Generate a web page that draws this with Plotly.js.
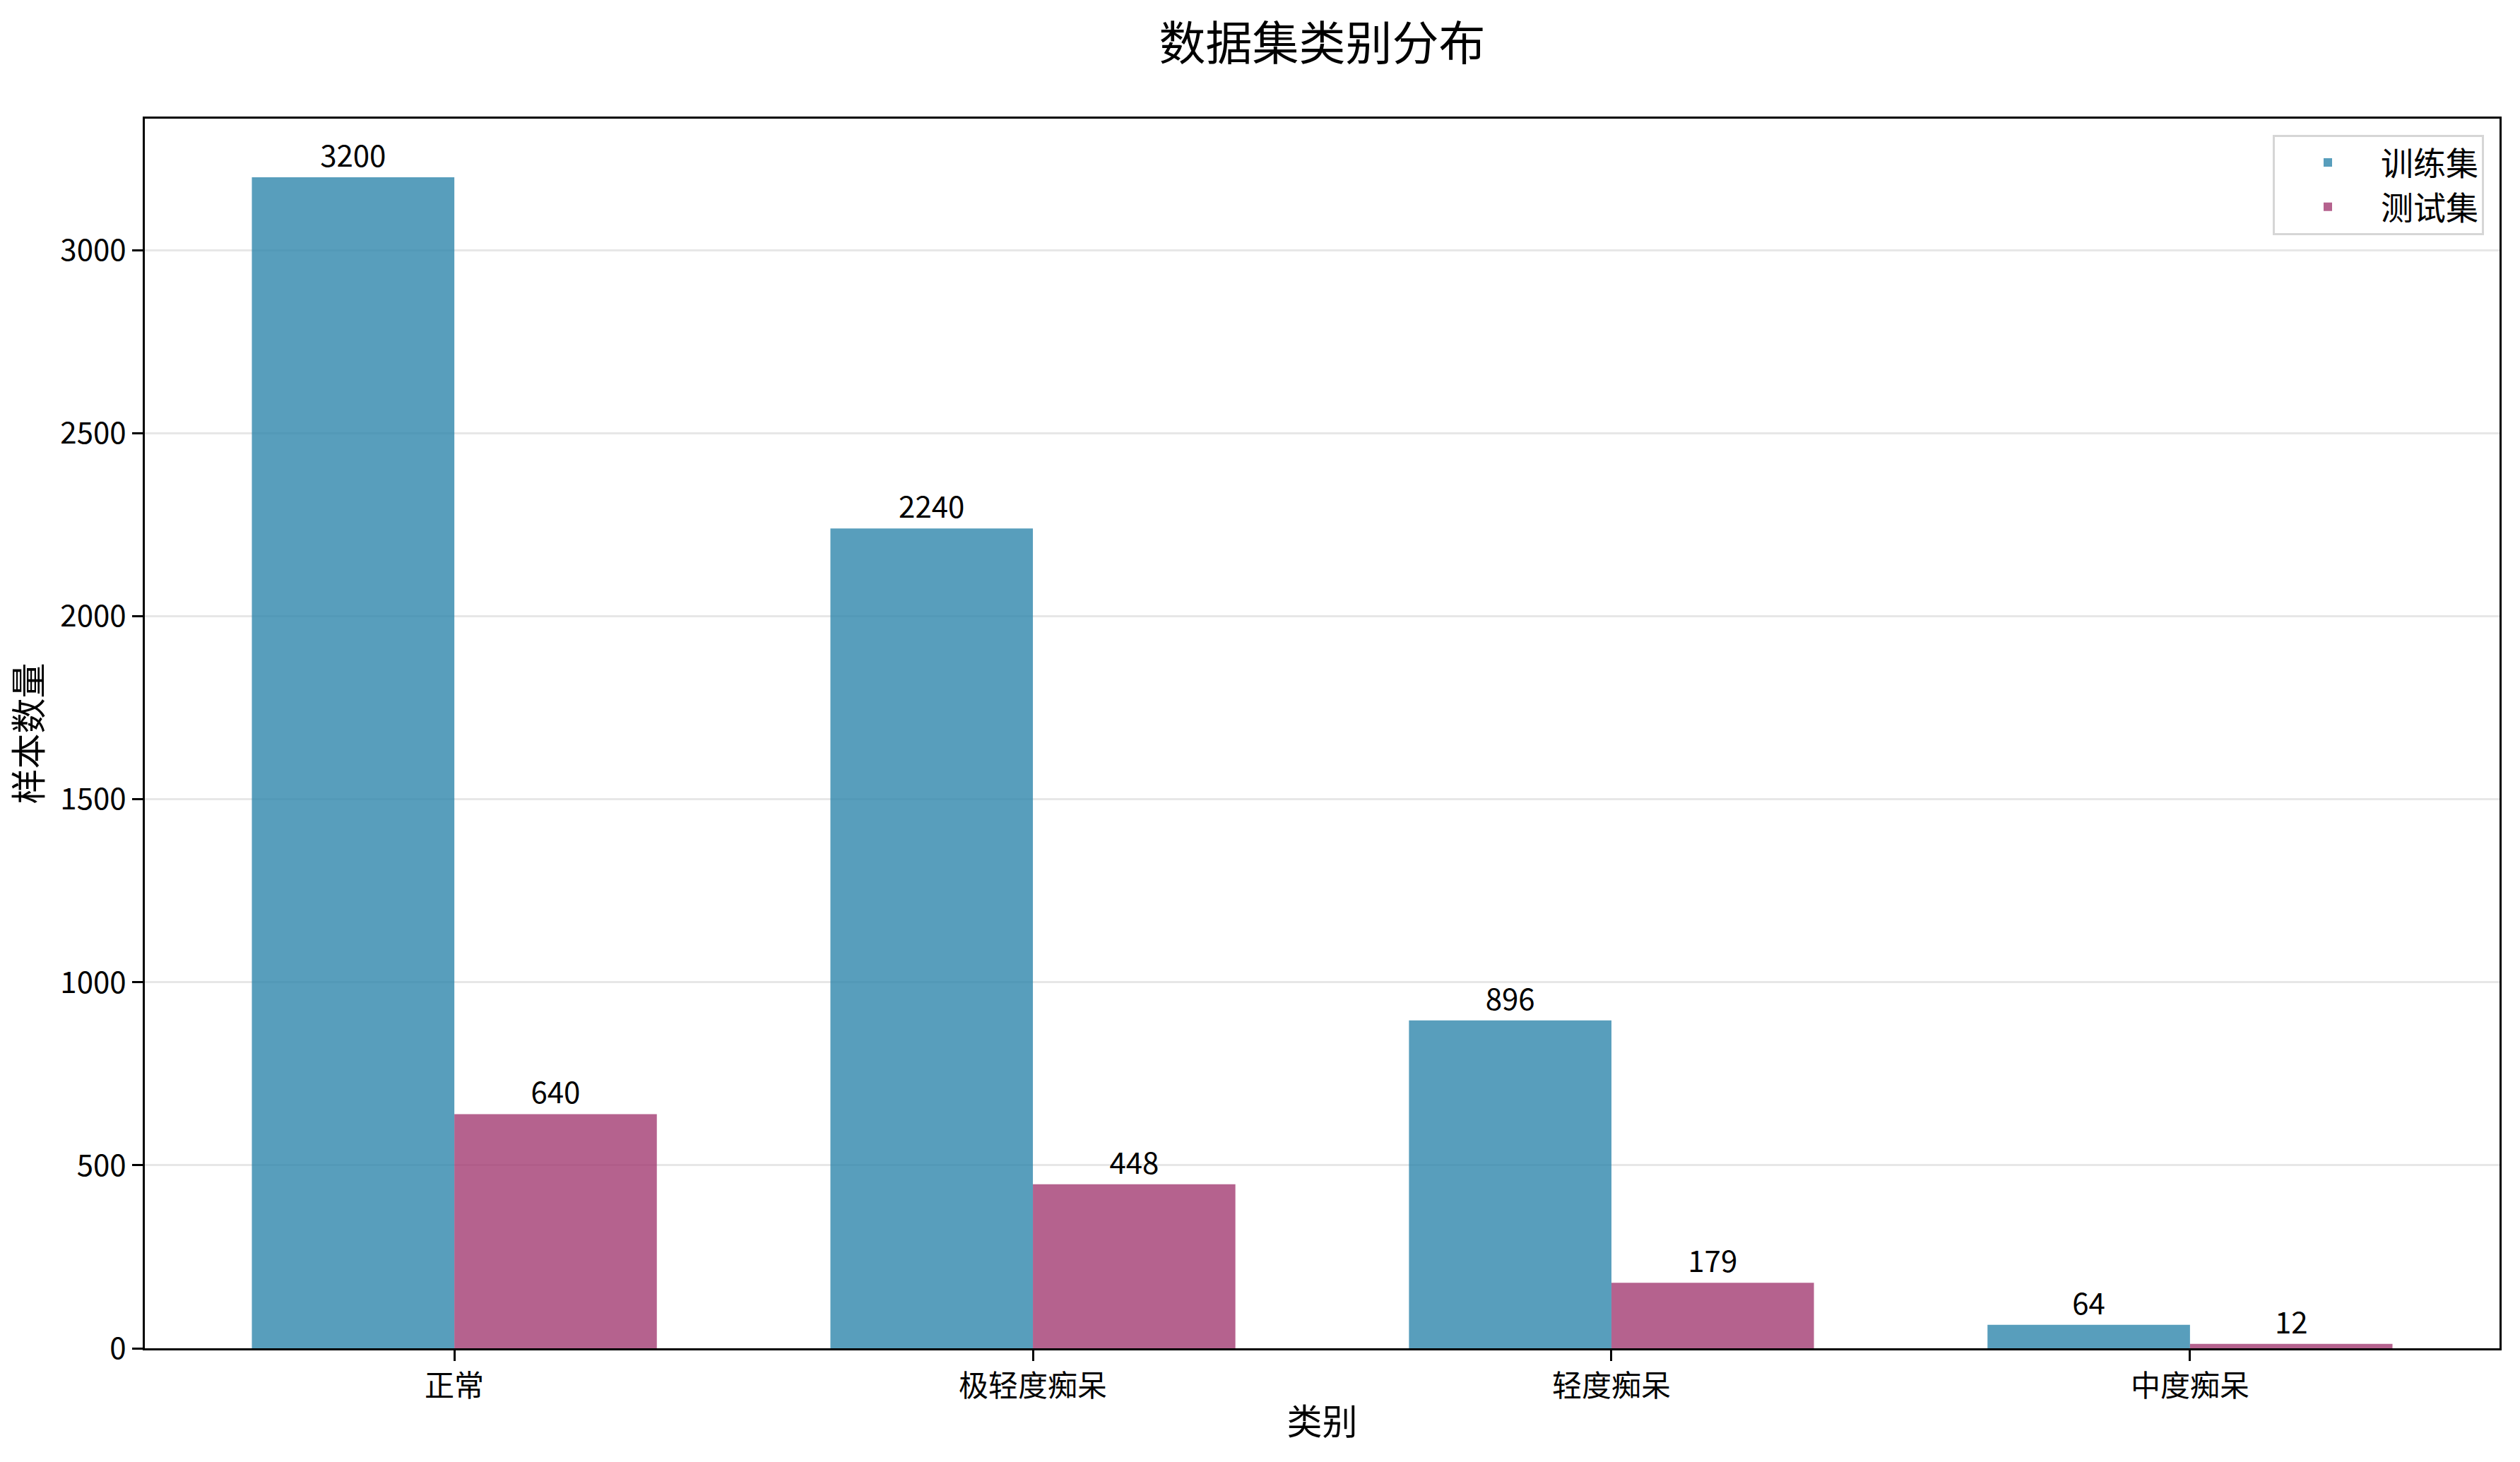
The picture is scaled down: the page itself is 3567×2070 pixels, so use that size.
<!DOCTYPE html>
<html>
<head>
<meta charset="utf-8">
<script src="https://cdn.plot.ly/plotly-3.0.1.min.js"></script>
<style>
  html, body { margin: 0; padding: 0; background: #fff; }
  #chart { width: 3567px; height: 2070px; }
</style>
</head>
<body>
<div id="chart"></div>
<script>
// categories and counts
const categories = ['正常', '极轻度痴呆', '轻度痴呆', '中度痴呆'];
const trainCounts = [3200, 2240, 896, 64];
const testCounts = [640, 448, 179, 12];
const seriesNames = ['训练集', '测试集'];
const yTicks = [0, 500, 1000, 1500, 2000, 2500, 3000];

const FONT = '"Noto Sans CJK SC", "Noto Sans", sans-serif';

function barTrace(name, values, color) {
  return {
    x: categories,
    y: values,
    name: name,
    type: 'bar',
    marker: { color: color, line: { width: 0 } },
    text: values.map(String),
    texttemplate: '%{text}',
    textposition: 'outside',
    constraintext: 'none',
    cliponaxis: false,
    textfont: { family: FONT, size: 42, color: '#000' },
    hoverinfo: 'skip'
  };
}

let data = [
  barTrace(seriesNames[0], trainCounts, 'rgba(46,134,171,0.8)'),
  barTrace(seriesNames[1], testCounts, 'rgba(162,59,114,0.8)')
];

let layout = {
  width: 3567,
  height: 2070,
  margin: { l: 205, r: 29, t: 168, b: 161 },
  paper_bgcolor: '#fff',
  plot_bgcolor: '#fff',
  font: { family: FONT, color: '#000' },
  barmode: 'group',
  bargap: 0.3,
  bargroupgap: 0,
  title: {
    text: '数据集类别分布',
    font: { family: FONT, size: 66, color: '#000' },
    xref: 'paper',
    x: 0.5,
    xanchor: 'center',
    y: 1 - 62 / 2070,
    yanchor: 'middle'
  },
  xaxis: {
    type: 'category',
    range: [-0.535, 3.535],
    showline: true,
    mirror: true,
    linecolor: '#000',
    linewidth: 3,
    ticks: 'outside',
    ticklen: 15,
    tickwidth: 3,
    tickcolor: '#000',
    showgrid: false,
    zeroline: false,
    tickfont: { family: FONT, size: 42, color: '#000' },
    title: {
      text: '类别',
      font: { family: FONT, size: 50, color: '#000' },
      standoff: 8
    }
  },
  yaxis: {
    range: [0, 3360],
    tickvals: yTicks,
    ticktext: yTicks.map(String),
    showline: true,
    mirror: true,
    linecolor: '#000',
    linewidth: 3,
    ticks: 'outside',
    ticklen: 15,
    tickwidth: 3,
    tickcolor: '#000',
    showgrid: true,
    gridcolor: 'rgba(176,176,176,0.3)',
    gridwidth: 3,
    zeroline: false,
    tickfont: { family: FONT, size: 42, color: '#000' },
    title: {
      text: '样本数量',
      font: { family: FONT, size: 50, color: '#000' },
      standoff: 10
    }
  },
  showlegend: true,
  legend: {
    x: 0.9934,
    xanchor: 'right',
    y: 0.987,
    yanchor: 'top',
    bgcolor: 'rgba(255,255,255,0.8)',
    bordercolor: '#d6d6d6',
    borderwidth: 3,
    font: { family: FONT, size: 46, color: '#000' },
    itemwidth: 140,
    tracegroupgap: 0
  }
};

let config = { responsive: false, displayModeBar: false, staticPlot: true };

Plotly.newPlot('chart', data, layout, config);
</script>
</body>
</html>
